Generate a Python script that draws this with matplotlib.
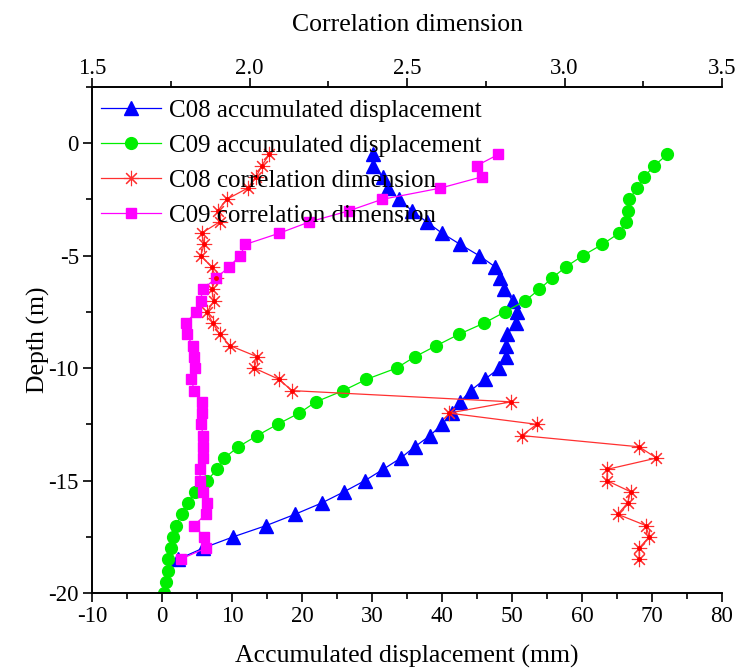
import matplotlib
matplotlib.use("Agg")
import matplotlib.pyplot as plt
from matplotlib.ticker import MultipleLocator

plt.rcParams['font.family'] = ['Liberation Serif', 'DejaVu Serif']
plt.rcParams['axes.unicode_minus'] = False

# depth (m), every 0.5 m
depth = [-0.5, -1.0, -1.5, -2.0, -2.5, -3.0, -3.5, -4.0, -4.5, -5.0,
         -5.5, -6.0, -6.5, -7.0, -7.5, -8.0, -8.5, -9.0, -9.5, -10.0,
         -10.5, -11.0, -11.5, -12.0, -12.5, -13.0, -13.5, -14.0, -14.5, -15.0,
         -15.5, -16.0, -16.5, -17.0, -17.5, -18.0, -18.5, -19.0, -19.5, -20.0]

# accumulated displacement (mm)
c08_disp = [30.1, 30.2, 31.5, 32.3, 33.9, 35.7, 37.8, 40.0, 42.6, 45.3,
            47.6, 48.3, 48.9, 50.1, 50.7, 50.6, 49.3, 49.2, 49.2, 48.2,
            46.1, 44.1, 42.6, 41.4, 40.0, 38.3, 36.1, 34.1, 31.6, 29.0,
            26.0, 22.8, 19.0, 14.9, 10.2, 5.9, 2.3]
c09_disp = [72.2, 70.3, 68.9, 67.9, 66.7, 66.6, 66.3, 65.3, 62.9, 60.1,
            57.7, 55.7, 53.9, 51.9, 49.0, 46.0, 42.4, 39.2, 36.1, 33.5,
            29.2, 25.9, 22.0, 19.6, 16.5, 13.6, 10.9, 8.9, 7.9, 6.4,
            4.7, 3.7, 2.8, 2.0, 1.6, 1.3, 0.9, 0.8, 0.6, 0.3]

# correlation dimension
c08_cd = [2.063, 2.039, 2.021, 1.994, 1.927, 1.900, 1.905, 1.848, 1.856, 1.845,
          1.880, 1.894, 1.880, 1.887, 1.866, 1.883, 1.906, 1.938, 2.025, 2.015,
          2.094, 2.134, 2.830, 2.633, 2.912, 2.864, 3.237, 3.292, 3.136, 3.134,
          3.210, 3.200, 3.169, 3.258, 3.269, 3.237, 3.237]
c09_cd = [2.790, 2.721, 2.737, 2.605, 2.420, 2.317, 2.190, 2.095, 1.987, 1.970,
          1.935, 1.894, 1.851, 1.845, 1.830, 1.798, 1.800, 1.820, 1.825, 1.827,
          1.815, 1.825, 1.850, 1.848, 1.846, 1.853, 1.853, 1.853, 1.843, 1.843,
          1.851, 1.866, 1.861, 1.824, 1.856, 1.862, 1.781]

fig = plt.figure(figsize=(7.36, 6.69), dpi=100)
ax = fig.add_axes([0.125, 0.1136, 0.856, 0.7564])
ax2 = ax.twiny()

l1, = ax.plot(c08_disp, depth[:len(c08_disp)], color='#0000ff', lw=0.9,
              marker='^', ms=9.5, label='C08 accumulated displacement')
l2, = ax.plot(c09_disp, depth[:len(c09_disp)], color='#00ee00', lw=0.9,
              marker='o', ms=8.5, label='C09 accumulated displacement')
l3, = ax2.plot(c08_cd, depth[:len(c08_cd)], color='#ff3030', lw=0.9,
               marker=(8, 2, 0), ms=11, mew=0.8, label='C08 correlation dimension')
l4, = ax2.plot(c09_cd, depth[:len(c09_cd)], color='#ff00ff', lw=0.9,
               marker='s', ms=7.5, label='C09 correlation dimension')
# small dots at asterisk centres
ax2.plot(c08_cd, depth[:len(c08_cd)], ls='none', marker='o', ms=2.5, color='#ff0000')

ax.set_xlim(-10, 80)
ax.set_ylim(-20, 2.5)
ax2.set_xlim(1.5, 3.5)

ax.xaxis.set_major_locator(MultipleLocator(10))
ax.xaxis.set_minor_locator(MultipleLocator(5))
ax.yaxis.set_major_locator(MultipleLocator(5))
ax.yaxis.set_minor_locator(MultipleLocator(2.5))
ax2.xaxis.set_major_locator(MultipleLocator(0.5))
ax2.xaxis.set_minor_locator(MultipleLocator(0.25))
ax2.xaxis.set_major_formatter(plt.FormatStrFormatter('%.1f'))

for a in (ax, ax2):
    a.tick_params(which='major', direction='out', length=6.5, width=1.2, labelsize=16.5)
    a.tick_params(which='minor', direction='out', length=4, width=1.2)
    a.spines['right'].set_visible(False)
    for s in a.spines.values():
        s.set_linewidth(1.2)
ax.tick_params(axis='x', pad=3)
ax.tick_params(axis='y', pad=3)
ax2.tick_params(axis='x', pad=-1)

ax.set_xlabel('Accumulated displacement (mm)', fontsize=18.5, labelpad=13)
ax.set_ylabel('Depth (m)', fontsize=18.5, labelpad=-1)
ax2.set_xlabel('Correlation dimension', fontsize=18.5, labelpad=20)

ax2.legend(handles=[l1, l2, l3, l4], loc='upper left', bbox_to_anchor=(-0.005, 1.0),
           frameon=False, fontsize=18, handlelength=2.4, handletextpad=0.3,
           labelspacing=0.5, borderaxespad=0.1)

fig.savefig('out.png', dpi=100)
